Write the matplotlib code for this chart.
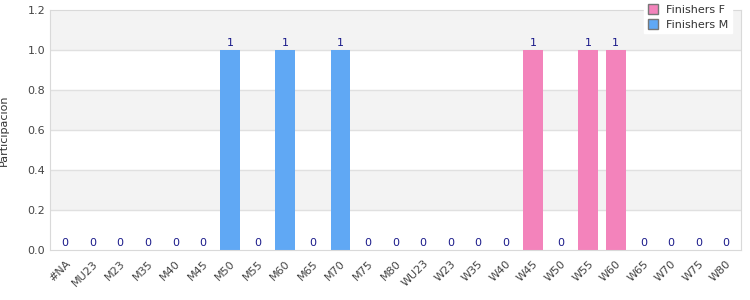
import numpy as np
import matplotlib.pyplot as plt

categories = ['#NA', 'MU23', 'M23', 'M35', 'M40', 'M45', 'M50', 'M55', 'M60',
              'M65', 'M70', 'M75', 'M80', 'WU23', 'W23', 'W35', 'W40', 'W45',
              'W50', 'W55', 'W60', 'W65', 'W70', 'W75', 'W80']
finishers_f = [0, 0, 0, 0, 0, 0, 0, 0, 0, 0, 0, 0, 0, 0, 0, 0, 0, 1, 0, 1, 1, 0, 0, 0, 0]
finishers_m = [0, 0, 0, 0, 0, 0, 1, 0, 1, 0, 1, 0, 0, 0, 0, 0, 0, 0, 0, 0, 0, 0, 0, 0, 0]
yticks = [0.0, 0.2, 0.4, 0.6, 0.8, 1.0, 1.2]

x = np.arange(len(categories))
f = np.array(finishers_f)
m = np.array(finishers_m)

fig = plt.figure(figsize=(7.5, 3), dpi=100)
ax = fig.add_axes([0.0667, 0.1667, 0.9213, 0.8])
ax.set_facecolor('white')

# alternating bands, shaded ones: 0.2-0.4, 0.6-0.8, 1.0-1.2
for lo in [0.2, 0.6, 1.0]:
    ax.axhspan(lo, lo + 0.2, facecolor='#f3f3f3', zorder=0, lw=0)
for y in yticks[1:-1]:
    ax.axhline(y, color='#e0e0e0', lw=1, zorder=1)

ax.bar(x, f, width=0.72, color='#f383bb', zorder=2, label='Finishers F')
ax.bar(x, m, width=0.72, bottom=f, color='#60a8f4', zorder=2, label='Finishers M')

tot = f + m
for xi, t in zip(x, tot):
    ax.text(xi, t + 0.012, str(t), ha='center', va='bottom', fontsize=8,
            color='#1a1a8a', zorder=3)

ax.set_xlim(-0.55, len(categories) - 0.45)
ax.set_ylim(0, 1.2)
ax.set_yticks(yticks)
ax.set_yticklabels([f'{v:.1f}' for v in yticks])
ax.set_xticks(x)
ax.set_xticklabels(categories, rotation=45, ha='right', rotation_mode='anchor')
ax.tick_params(axis='both', length=0, labelsize=8, labelcolor='#444444')
ax.tick_params(axis='x', pad=6)
ax.set_ylabel('Participacion', fontsize=8, color='#333333')
ax.yaxis.set_label_coords(-0.06, 0.5)

for s in ax.spines.values():
    s.set_color('#d9d9d9')

leg = ax.legend(loc='upper right', bbox_to_anchor=(0.995, 1.06), fontsize=8,
                frameon=True, fancybox=False, handlelength=0.9, handleheight=0.9,
                borderpad=0.3, labelspacing=0.4)
leg.get_frame().set_edgecolor('white')
leg.get_frame().set_alpha(1)
for h in leg.legend_handles:
    h.set_edgecolor('#777777')
    h.set_linewidth(1)
for t in leg.get_texts():
    t.set_color('#333333')

fig.savefig('out.png', dpi=100)
